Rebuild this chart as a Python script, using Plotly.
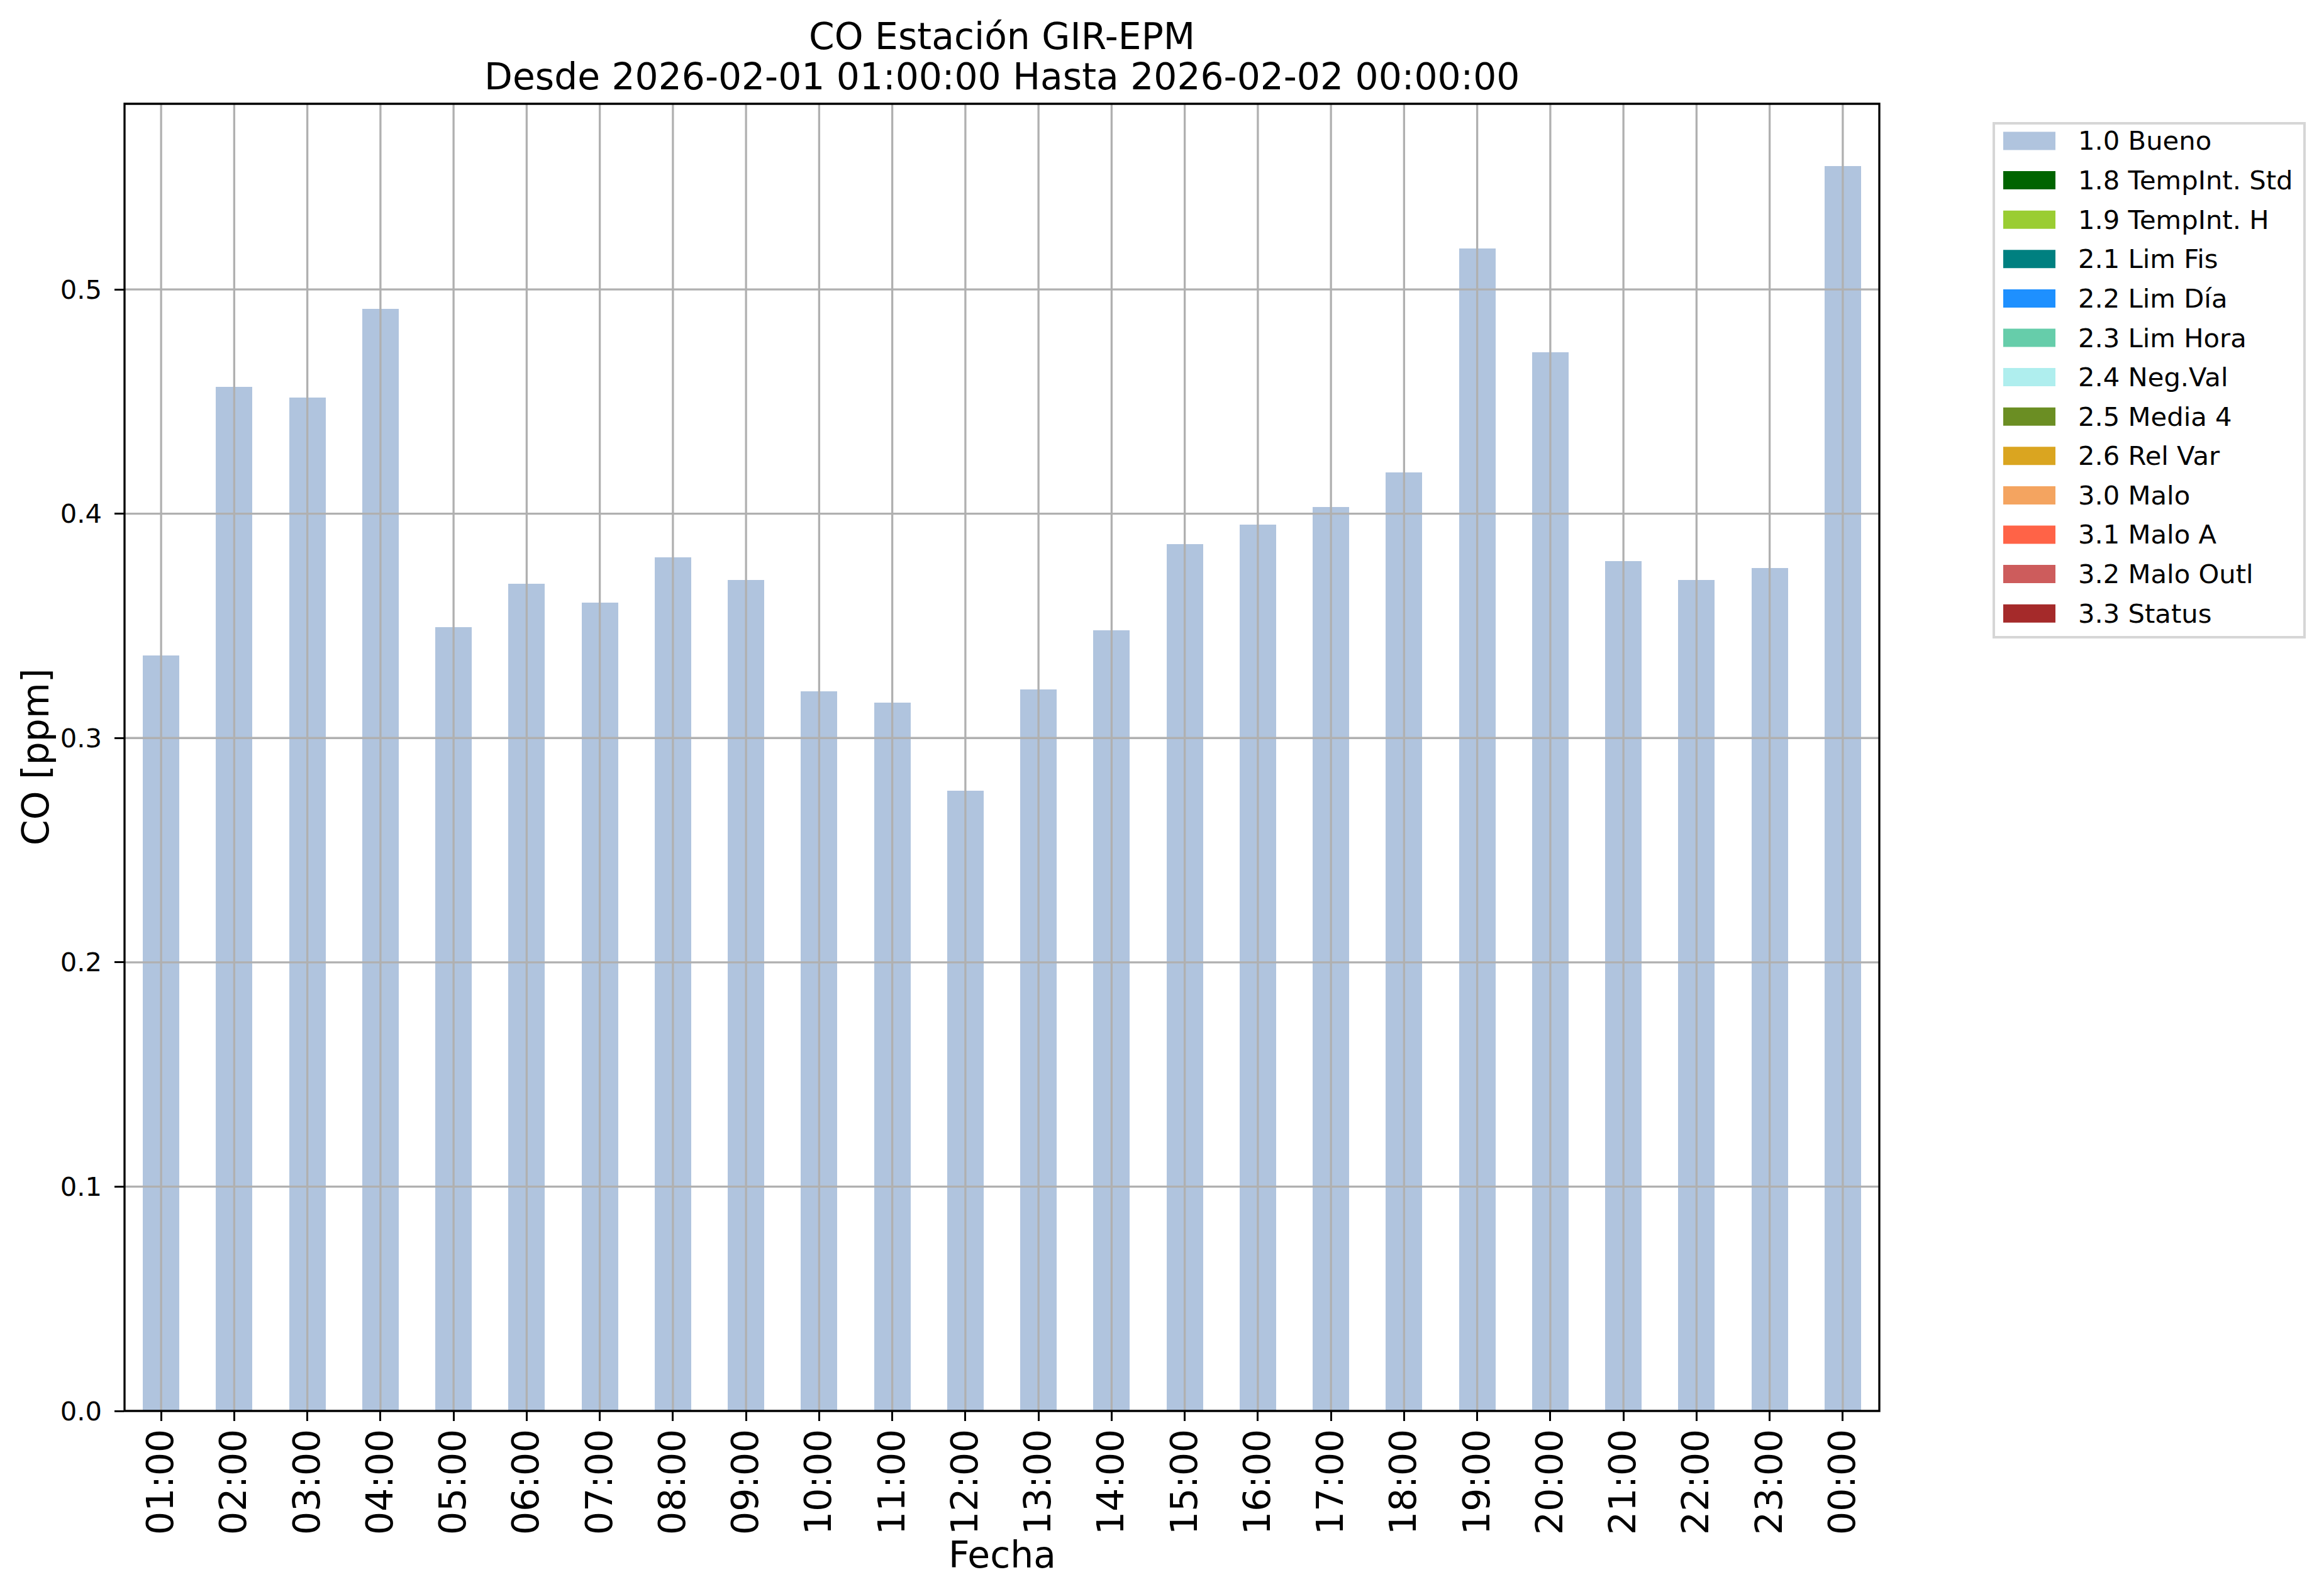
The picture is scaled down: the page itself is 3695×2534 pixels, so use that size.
import plotly.graph_objects as go

# ---------------- data ----------------
hours = ["01:00", "02:00", "03:00", "04:00", "05:00", "06:00", "07:00", "08:00",
         "09:00", "10:00", "11:00", "12:00", "13:00", "14:00", "15:00", "16:00",
         "17:00", "18:00", "19:00", "20:00", "21:00", "22:00", "23:00", "00:00"]
bueno = [0.3367, 0.4565, 0.4518, 0.4913, 0.3494, 0.3688, 0.3603, 0.3806,
         0.3705, 0.3207, 0.3157, 0.2764, 0.3216, 0.3479, 0.3865, 0.3952,
         0.4030, 0.4185, 0.5182, 0.4721, 0.3788, 0.3704, 0.3759, 0.5550]
flag_names = ["1.0 Bueno", "1.8 TempInt. Std", "1.9 TempInt. H", "2.1 Lim Fis",
              "2.2 Lim Día", "2.3 Lim Hora", "2.4 Neg.Val", "2.5 Media 4",
              "2.6 Rel Var", "3.0 Malo", "3.1 Malo A", "3.2 Malo Outl", "3.3 Status"]
flag_colors = ["#B0C4DE", "#006400", "#9ACD32", "#008080", "#1E90FF", "#66CDAA",
               "#AFEEEE", "#6B8E23", "#DAA520", "#F4A460", "#FF6347", "#CD5C5C", "#A52A2A"]
ytick_vals = [0.0, 0.1, 0.2, 0.3, 0.4, 0.5]
title1 = "CO Estación GIR-EPM"
title2 = "Desde 2026-02-01 01:00:00 Hasta 2026-02-02 00:00:00"

# ---------------- layout geometry (pixels) ----------------
W, H = 3695, 2534
L, R, T, B = 198, 2988, 165, 2243
FONT = "DejaVu Sans"
F_SMALL = 41.7
F_BIG = 58.3
LW = 3.3


def px2x(px):
    return (px - L) / (R - L)


def py2y(py):
    return (B - py) / (B - T)


fig = go.Figure()

series = [bueno] + [[0.0] * len(hours) for _ in flag_names[1:]]
for name, color, vals in zip(flag_names, flag_colors, series):
    fig.add_trace(go.Bar(x=hours, y=vals, name=name, marker_color=color,
                         marker_line_width=0, showlegend=False))

ymax = max(bueno) * 1.05

shapes = []
# gridlines above bars (matplotlib draws grid above patches)
for i, _ in enumerate(hours):
    shapes.append(dict(type="line", xref="x", yref="paper", x0=i, x1=i, y0=0, y1=1,
                       line=dict(color="#b0b0b0", width=LW), layer="above"))
for v in ytick_vals[1:]:
    shapes.append(dict(type="line", xref="paper", yref="y", x0=0, x1=1, y0=v, y1=v,
                       line=dict(color="#b0b0b0", width=LW), layer="above"))
# frame
shapes.append(dict(type="rect", xref="paper", yref="paper", x0=0, x1=1, y0=0, y1=1,
                   line=dict(color="black", width=LW), layer="above"))

# manual legend
leg_l, leg_r, leg_t, leg_b = 3170, 3664, 196, 1013
shapes.append(dict(type="rect", xref="paper", yref="paper",
                   x0=px2x(leg_l), x1=px2x(leg_r), y0=py2y(leg_b), y1=py2y(leg_t),
                   line=dict(color="#d6d6d6", width=4), fillcolor="white", layer="above"))
annotations = []
row0, pitch = 224, 62.6
for i, (name, color) in enumerate(zip(flag_names, flag_colors)):
    cy = row0 + pitch * i
    shapes.append(dict(type="rect", xref="paper", yref="paper",
                       x0=px2x(3185), x1=px2x(3268), y0=py2y(cy + 14.5), y1=py2y(cy - 14.5),
                       line=dict(width=0), fillcolor=color, layer="above"))
    annotations.append(dict(text=name, xref="paper", yref="paper", x=px2x(3302), y=py2y(cy),
                            xanchor="left", yanchor="middle", showarrow=False,
                            font=dict(family=FONT, size=F_SMALL, color="black")))

# titles and axis labels
annotations += [
    dict(text=title1, xref="paper", yref="paper", x=0.5, y=py2y(58), xanchor="center",
         yanchor="middle", showarrow=False, font=dict(family=FONT, size=F_BIG, color="black")),
    dict(text=title2, xref="paper", yref="paper", x=0.5, y=py2y(122), xanchor="center",
         yanchor="middle", showarrow=False, font=dict(family=FONT, size=F_BIG, color="black")),
    dict(text="CO [ppm]", xref="paper", yref="paper", x=px2x(57), y=0.5, xanchor="center",
         yanchor="middle", textangle=-90, showarrow=False,
         font=dict(family=FONT, size=F_BIG, color="black")),
    dict(text="Fecha", xref="paper", yref="paper", x=0.5, y=py2y(2472), xanchor="center",
         yanchor="middle", showarrow=False, font=dict(family=FONT, size=F_BIG, color="black")),
]

fig.update_layout(
    width=W, height=H,
    margin=dict(l=L, r=W - R, t=T, b=H - B, pad=0),
    paper_bgcolor="white", plot_bgcolor="white",
    barmode="stack", bargap=0.5,
    showlegend=False,
    font=dict(family=FONT, color="black"),
    shapes=shapes, annotations=annotations,
    xaxis=dict(type="category", range=[-0.5, len(hours) - 0.5], showgrid=False,
               tickangle=-90, ticks="outside", ticklen=14.6, tickwidth=LW, tickcolor="black",
               tickfont=dict(family=FONT, size=F_BIG, color="black"),
               ticklabelstandoff=-10, showline=False, zeroline=False),
    yaxis=dict(range=[0, ymax], tickvals=ytick_vals, tickformat=".1f", showgrid=False,
               ticks="outside", ticklen=14.6, tickwidth=LW, tickcolor="black",
               tickfont=dict(family=FONT, size=F_SMALL, color="black"),
               ticklabelstandoff=12, showline=False, zeroline=False),
)

fig.write_html("out.html", config={"displayModeBar": False},
               post_script="document.body.style.margin='0';document.body.style.padding='0';")
